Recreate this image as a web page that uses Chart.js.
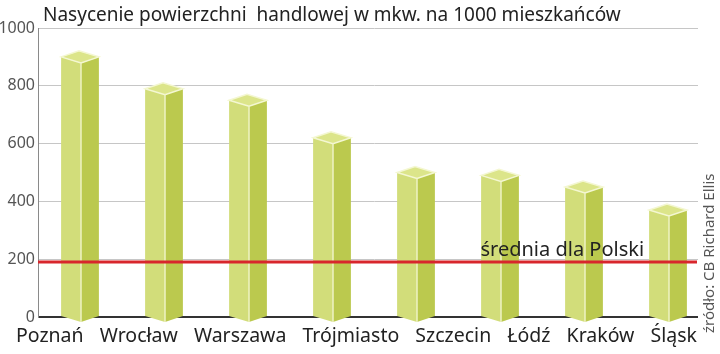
<!DOCTYPE html>
<html><head><meta charset="utf-8">
<script src="https://cdn.jsdelivr.net/npm/chart.js@4"></script>
<style>html,body{margin:0;padding:0;background:#fff}canvas{display:block}</style>
</head><body>
<canvas id="c" width="720" height="354"></canvas>
<script>
const categories = ['Poznań','Wrocław','Warszawa','Trójmiasto','Szczecin','Łódź','Kraków','Śląsk'];
const values = [900, 790, 750, 620, 500, 490, 450, 370];
const polandAverage = 190;
const averageLabel = 'średnia dla Polski';
const yTicks = [0, 200, 400, 600, 800, 1000];
const titleText = 'Nasycenie powierzchni  handlowej w mkw. na 1000 mieszkańców';
const sourceText = 'źródło: CB Richard Ellis';

const FONT = '"Noto Sans", "DejaVu Sans", sans-serif';

const prismPlugin = {
  id: 'prism',
  afterDatasetsDraw(chart) {
    const ctx = chart.ctx;
    const meta = chart.getDatasetMeta(0);
    const d = 6;
    ctx.save();
    meta.data.forEach(el => {
      const p = el.getProps(['x','y','base','width'], true);
      const l = p.x - p.width/2, r = p.x + p.width/2, f = p.x + 1, t = p.y, b = p.base;
      ctx.fillStyle = '#d2dd7a';
      ctx.beginPath(); ctx.moveTo(l,t); ctx.lineTo(f,t+d); ctx.lineTo(f,b+d); ctx.lineTo(l,b); ctx.closePath(); ctx.fill();
      ctx.fillStyle = '#bbc94e';
      ctx.beginPath(); ctx.moveTo(f,t+d); ctx.lineTo(r,t); ctx.lineTo(r,b); ctx.lineTo(f,b+d); ctx.closePath(); ctx.fill();
      ctx.fillStyle = '#dce58a';
      ctx.beginPath(); ctx.moveTo(l,t); ctx.lineTo(f,t+d); ctx.lineTo(r,t); ctx.lineTo(f-2,t-d); ctx.closePath(); ctx.fill();
      ctx.strokeStyle = '#f4f7d2'; ctx.lineWidth = 1.5; ctx.stroke();
      ctx.strokeStyle = '#eef2c4'; ctx.lineWidth = 1.5;
      ctx.beginPath(); ctx.moveTo(f,t+d); ctx.lineTo(f,b+d); ctx.stroke();
    });
    const y = chart.scales.y.getPixelForValue(polandAverage);
    const ca = chart.chartArea;
    ctx.strokeStyle = '#d8262c'; ctx.lineWidth = 3;
    ctx.beginPath(); ctx.moveTo(ca.left, y); ctx.lineTo(ca.right - 13, y); ctx.stroke();
    const last = meta.data[meta.data.length-1];
    ctx.fillStyle = '#222'; ctx.font = '20px ' + FONT; ctx.textAlign = 'right'; ctx.textBaseline = 'alphabetic';
    ctx.fillText(averageLabel, last.x - last.width/2 - 5, y - 6);
    ctx.restore();
  },
  afterDraw(chart) {
    const ctx = chart.ctx;
    const ca = chart.chartArea;
    ctx.save();
    ctx.fillStyle = '#fff';
    ctx.fillRect(ca.right - 12, ca.top - 4, 40, ca.bottom - ca.top + 10);
    ctx.fillStyle = '#222'; ctx.font = '19px ' + FONT; ctx.textAlign = 'left'; ctx.textBaseline = 'alphabetic';
    ctx.fillText(titleText, 43, 21);
    ctx.font = '19.5px ' + FONT;
    const x0 = 16, x1 = ca.right - 13;
    const widths = categories.map(c => ctx.measureText(c).width);
    const total = widths.reduce((a,b)=>a+b,0);
    const gap = (x1 - x0 - total) / (categories.length - 1);
    let x = x0;
    categories.forEach((c,i) => { ctx.fillText(c, x, 342); x += widths[i] + gap; });
    ctx.translate(ca.right, 333);
    ctx.rotate(-Math.PI/2);
    ctx.fillStyle = '#555'; ctx.font = '15px ' + FONT; ctx.textBaseline = 'middle';
    ctx.fillText(sourceText, 0, 0);
    ctx.restore();
  }
};

new Chart(document.getElementById('c'), {
  type: 'bar',
  data: {
    labels: categories,
    datasets: [{ data: values, backgroundColor: 'rgba(0,0,0,0)', borderWidth: 0, barPercentage: 0.45, categoryPercentage: 1 }]
  },
  options: {
    responsive: false,
    animation: false,
    layout: { padding: { left: 0, right: 10, top: 28, bottom: 0 } },
    plugins: { legend: { display: false }, tooltip: { enabled: false }, title: { display: false } },
    scales: {
      x: { ticks: { display: false }, grid: { display: false }, border: { display: false }, afterFit(s) { s.height = 37; } },
      y: {
        min: 0, max: 1000,
        afterBuildTicks(s) { s.ticks = yTicks.map(v => ({ value: v })); },
        ticks: { font: { family: FONT, size: 16 }, color: '#555', padding: 3, callback: v => String(v) },
        grid: { color: c => c.tick && c.tick.value === 0 ? '#333' : '#c6c6c6', lineWidth: c => c.tick && c.tick.value === 0 ? 2 : 1, drawTicks: false },
        border: { display: true, color: '#8a8a8a', width: 1 },
        afterFit(s) { s.width = 38; }
      }
    }
  },
  plugins: [prismPlugin]
});
</script>
</body></html>
